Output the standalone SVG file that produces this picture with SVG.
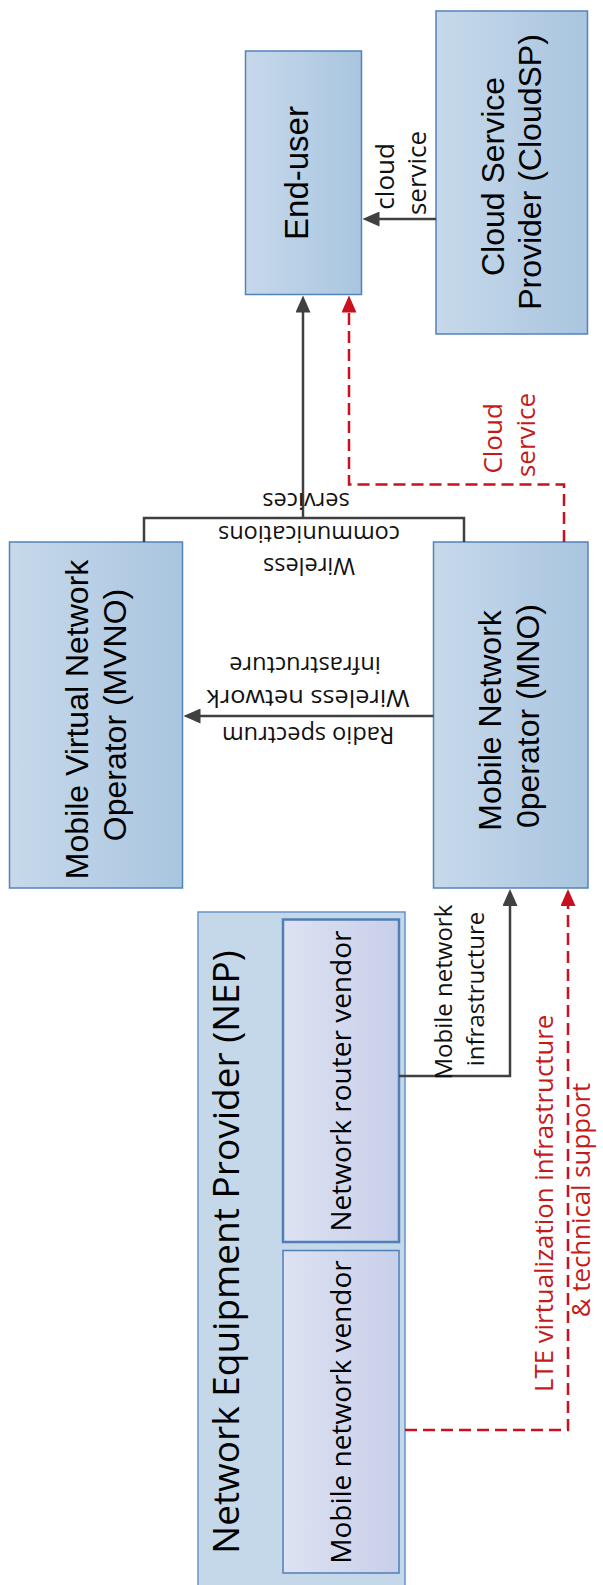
<svg xmlns="http://www.w3.org/2000/svg" width="603" height="1585" viewBox="0 0 603 1585">
  <defs>
    <linearGradient id="blueFill" x1="0" y1="0" x2="1" y2="0">
      <stop offset="0" stop-color="#c7d9eb"/>
      <stop offset="1" stop-color="#a9c5df"/>
    </linearGradient>
    <linearGradient id="vendorFill" x1="0" y1="0" x2="1" y2="0">
      <stop offset="0" stop-color="#dde2f2"/>
      <stop offset="1" stop-color="#c8cfe9"/>
    </linearGradient>
    <marker id="arrowDark" markerUnits="userSpaceOnUse" markerWidth="17" markerHeight="15" refX="9" refY="7.5" orient="auto">
      <path d="M0,0 L17,7.5 L0,15 z" fill="#404040"/>
    </marker>
    <marker id="arrowRed" markerUnits="userSpaceOnUse" markerWidth="17" markerHeight="15" refX="9" refY="7.5" orient="auto">
      <path d="M0,0 L17,7.5 L0,15 z" fill="#c8101e"/>
    </marker>
  </defs>
  <style>
    .box { fill: url(#blueFill); stroke: #5283bb; stroke-width: 1.5; }
    .group { fill: #c4d8ea; stroke: #6694c6; stroke-width: 1.5; }
    .vendor { fill: url(#vendorFill); stroke: #4f7fb6; stroke-width: 1.5; }
    .vendor.strong { stroke-width: 2.5; }
    .title { font-family: "Liberation Sans", Arial, sans-serif; fill: #000; text-anchor: middle; }
    .nep { font-family: "Open Sans", "DejaVu Sans", sans-serif; fill: #000; text-anchor: middle; }
    .lbl { font-family: "Open Sans", "DejaVu Sans", sans-serif; fill: #111; text-anchor: middle; }
    .lbl.red { fill: #c41a1a; }
    .link { fill: none; stroke: #404040; stroke-width: 2.5; }
    .link.red { stroke: #c8101e; stroke-dasharray: 12 6; }
  </style>

  <!-- Cloud Service Provider -->
  <g id="cloudsp">
    <rect class="box" x="436" y="11" width="151.5" height="323"/>
    <text class="title" font-size="32" transform="translate(504,172) rotate(-90)">
      <tspan x="0" y="0">Cloud Service</tspan>
      <tspan x="0" dy="37">Provider (CloudSP)</tspan>
    </text>
  </g>

  <!-- End-user -->
  <g id="enduser">
    <rect class="box" x="245.5" y="51" width="116" height="243.5"/>
    <text class="title" font-size="33" transform="translate(307.5,173) rotate(-90)">End-user</text>
  </g>

  <!-- Mobile Virtual Network Operator -->
  <g id="mvno">
    <rect class="box" x="9.5" y="542" width="173" height="346"/>
    <text class="title" font-size="32" transform="translate(88,715) rotate(-90)">
      <tspan x="0" y="0">Mobile Virtual Network</tspan>
      <tspan x="0" dy="38">Operator (MVNO)</tspan>
    </text>
  </g>

  <!-- Mobile Network Operator -->
  <g id="mno">
    <rect class="box" x="433.5" y="542" width="154.5" height="346"/>
    <text class="title" font-size="32" transform="translate(500.5,716) rotate(-90)">
      <tspan x="0" y="0">Mobile Network</tspan>
      <tspan x="0" dy="38">0perator (MNO)</tspan>
    </text>
  </g>

  <!-- Network Equipment Provider with its two vendors -->
  <g id="nep">
    <rect class="group" x="198" y="912" width="207" height="690"/>
    <text class="nep" font-size="37" transform="translate(239,1252) rotate(-90)">Network Equipment Provider (NEP)</text>
  </g>
  <g id="router-vendor">
    <rect class="vendor strong" x="283" y="919.5" width="116" height="322.5"/>
    <text class="nep" font-size="28" transform="translate(350.5,1081) rotate(-90)">Network router vendor</text>
  </g>
  <g id="mobile-vendor">
    <rect class="vendor" x="283" y="1250.5" width="116" height="322.5"/>
    <text class="nep" font-size="28" transform="translate(350.5,1412) rotate(-90)">Mobile network vendor</text>
  </g>

  <!-- Connectors -->
  <g id="connectors">
    <!-- cloud service: CloudSP to End-user -->
    <path class="link" d="M436,219 H370.5" marker-end="url(#arrowDark)"/>
    <text class="lbl" font-size="26" transform="translate(394,173) rotate(-90)">
      <tspan x="0" y="0">cloud</tspan>
      <tspan x="0" dy="32">service</tspan>
    </text>

    <!-- wireless communications services: MVNO + MNO to End-user -->
    <path class="link" d="M144,542 V518 H464 V542"/>
    <path class="link" d="M303,518 V303.5" marker-end="url(#arrowDark)"/>
    <text class="lbl" font-size="23.5" transform="translate(306,558.3) rotate(180)">
      <tspan x="0" y="0">Wireless</tspan>
      <tspan x="0" dy="32.5">communications</tspan>
      <tspan x="0" dy="32.5">services</tspan>
    </text>

    <!-- cloud service offered by the MNO -->
    <path class="link red" d="M564,542 V484.5 H349 V303.5" marker-end="url(#arrowRed)"/>
    <text class="lbl red" font-size="26" transform="translate(502,435) rotate(-90)">
      <tspan x="0" y="0">Cloud</tspan>
      <tspan x="0" dy="33">service</tspan>
    </text>

    <!-- MNO to MVNO -->
    <path class="link" d="M433.5,716 H191.5" marker-end="url(#arrowDark)"/>
    <text class="lbl" font-size="23.5" transform="translate(305,727) rotate(180)">
      <tspan x="0" y="0">Radio spectrum</tspan>
      <tspan x="0" dy="37" textLength="203" lengthAdjust="spacingAndGlyphs">Wireless network</tspan>
      <tspan x="0" dy="33.3">infrastructure</tspan>
    </text>

    <!-- router vendor to MNO -->
    <path class="link" d="M399,1076 H510 V897" marker-end="url(#arrowDark)"/>
    <text class="lbl" font-size="24" transform="translate(451.5,989) rotate(-90)">
      <tspan x="0" y="0">Mobile network</tspan>
      <tspan x="0" dy="32">infrastructure</tspan>
    </text>

    <!-- LTE virtualization from the mobile network vendor to MNO -->
    <path class="link red" d="M405,1430 H568 V897" marker-end="url(#arrowRed)"/>
    <text class="lbl red" font-size="25.8" transform="translate(553,1200) rotate(-90)">
      <tspan x="0" y="0">LTE virtualization infrastructure</tspan>
      <tspan x="0" dy="37">&amp; technical support</tspan>
    </text>
  </g>
</svg>
